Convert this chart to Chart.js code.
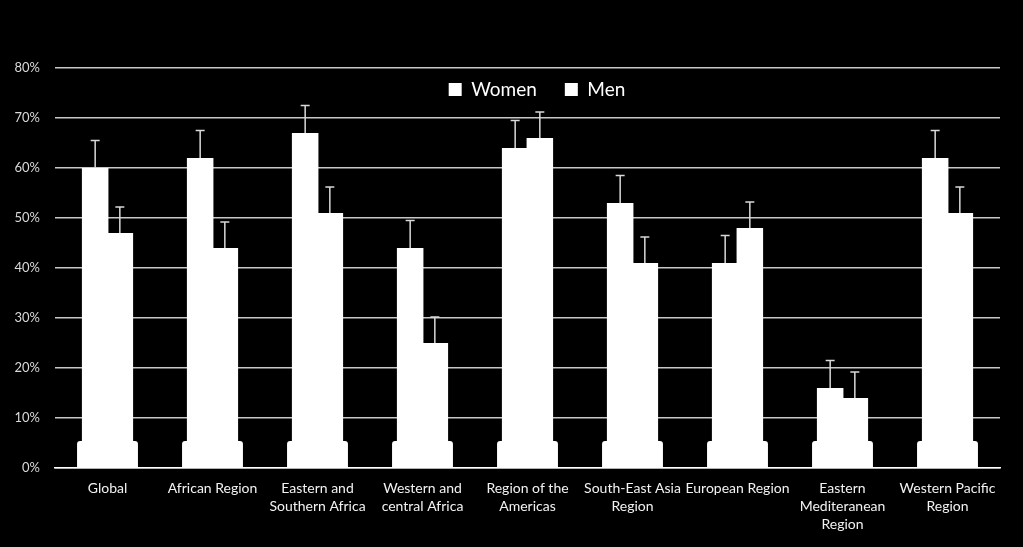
<!DOCTYPE html>
<html>
<head>
<meta charset="utf-8">
<script src="https://cdn.jsdelivr.net/npm/chart.js@4/dist/chart.umd.min.js"></script>
<style>
  html, body { margin: 0; padding: 0; background: #000; }
  #wrap { width: 1023px; height: 547px; }
</style>
</head>
<body>
<div id="wrap"><canvas id="myChart" width="1023" height="547"></canvas></div>
<script>
// data
const regions = [
    'Global',
    'African Region',
    ['Eastern and', 'Southern Africa'],
    ['Western and', 'central Africa'],
    ['Region of the', 'Americas'],
    ['South-East Asia', 'Region'],
    'European Region',
    ['Eastern', 'Mediteranean', 'Region'],
    ['Western Pacific', 'Region']
];
const women = [60, 62, 67, 44, 64, 53, 41, 16, 62];
const men = [47, 44, 51, 25, 66, 41, 48, 14, 51];
const womenErr = [5.5, 5.5, 5.5, 5.5, 5.5, 5.5, 5.5, 5.5, 5.5];
const menErr = [5.2, 5.2, 5.2, 5.2, 5.2, 5.2, 5.2, 5.2, 5.2];
const baseBlock = [5.4, 5.4, 5.4, 5.4, 5.4, 5.4, 5.4, 5.4, 5.4];
const yTicks = [0, 10, 20, 30, 40, 50, 60, 70, 80];

const FONT = 'Lato, "Open Sans", sans-serif';

// upward error bars, drawn with the chart's own scales
const errorBars = {
    id: 'errorBars',
    afterDatasetsDraw(chart) {
        const ctx = chart.ctx;
        const y = chart.scales.y;
        const errs = [womenErr, menErr];
        ctx.save();
        ctx.strokeStyle = '#d9d9d9';
        ctx.lineWidth = 1.5;
        [0, 1].forEach(di => {
            const meta = chart.getDatasetMeta(di);
            meta.data.forEach((bar, i) => {
                const v = chart.data.datasets[di].data[i];
                const top = y.getPixelForValue(v + errs[di][i]);
                const x = bar.x;
                ctx.beginPath();
                ctx.moveTo(x, bar.y);
                ctx.lineTo(x, top);
                ctx.moveTo(x - 4.5, top);
                ctx.lineTo(x + 4.5, top);
                ctx.stroke();
            });
        });
        ctx.restore();
    }
};

// move the legend down into the plot, a bit right of centre
const legendInside = {
    id: 'legendInside',
    afterLayout(chart) {
        const lg = chart.legend;
        const dy = 52 - lg.top;
        const dx = 537 - (lg.left + lg.right) / 2;
        lg.top += dy; lg.bottom += dy;
        lg.left += dx; lg.right += dx;
    }
};

var ctx = document.getElementById('myChart').getContext('2d');
var chart = new Chart(ctx, {
    type: 'bar',
    data: {
        labels: regions,
        datasets: [
            {
                label: 'Women',
                backgroundColor: '#ffffff',
                data: women,
                categoryPercentage: 0.47,
                barPercentage: 1.075
            },
            {
                label: 'Men',
                backgroundColor: '#ffffff',
                data: men,
                categoryPercentage: 0.47,
                barPercentage: 1.075
            },
            {
                label: 'base',
                backgroundColor: '#ffffff',
                data: baseBlock,
                grouped: false,
                categoryPercentage: 0.58,
                barPercentage: 1,
                borderRadius: 3,
                borderSkipped: 'bottom'
            }
        ]
    },
    options: {
        responsive: false,
        animation: false,
        layout: { padding: { top: 11, right: 23, left: 0, bottom: 0 } },
        plugins: {
            tooltip: { enabled: false },
            legend: {
                position: 'top',
                align: 'center',
                labels: {
                    color: '#ffffff',
                    font: { family: FONT, size: 19 },
                    boxWidth: 13,
                    boxHeight: 13,
                    padding: 28,
                    filter: item => item.text !== 'base'
                }
            }
        },
        scales: {
            x: {
                grid: { display: false },
                border: { color: '#ffffff', width: 1.5 },
                ticks: {
                    color: '#f2f2f2',
                    font: { family: FONT, size: 14, lineHeight: 1.3 },
                    maxRotation: 0,
                    autoSkip: false,
                    padding: 3
                },
                afterFit(scale) { scale.height = 79; }
            },
            y: {
                min: 0,
                max: 80,
                afterBuildTicks(scale) { scale.ticks = yTicks.map(v => ({ value: v })); },
                grid: { color: '#c8c8c8', lineWidth: 1.5, drawTicks: false },
                border: { display: false },
                ticks: {
                    color: '#d9d9d9',
                    font: { family: FONT, size: 13 },
                    padding: 15,
                    callback: v => v + '%'
                },
                afterFit(scale) { scale.width = 55; }
            }
        }
    },
    plugins: [errorBars, legendInside]
});
</script>
</body>
</html>
